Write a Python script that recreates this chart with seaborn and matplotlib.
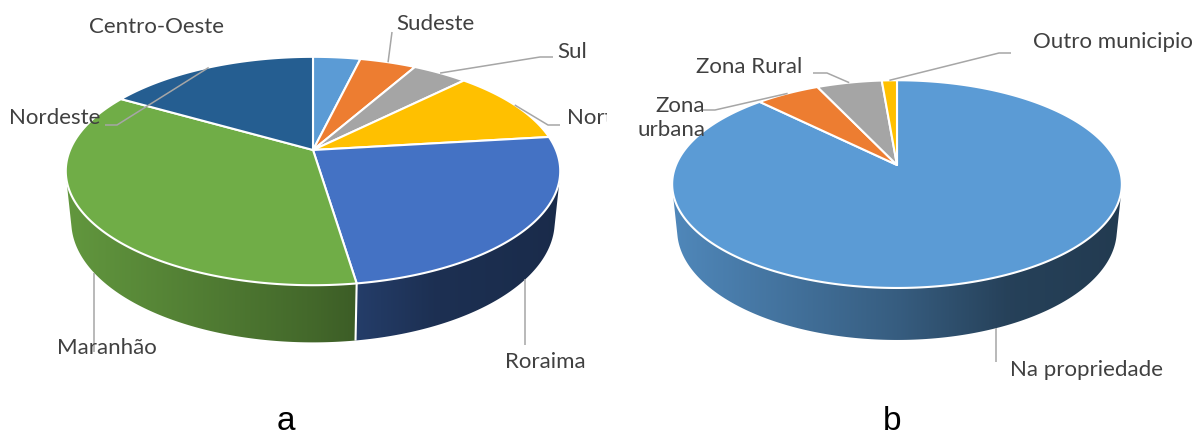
import numpy as np
import matplotlib
matplotlib.use("Agg")
import matplotlib.pyplot as plt
import seaborn as sns
from matplotlib.patches import Polygon

# ---- data -------------------------------------------------------------
regions = ["Centro-Oeste", "Sudeste", "Sul", "Norte", "Roraima", "Maranhão", "Nordeste"]
region_share = [3.7, 4.4, 4.3, 10.7, 24.6, 35.8, 16.6]

places = ["Na propriedade", "Zona urbana", "Zona Rural", "Outro municipio"]
place_share = [87.6, 5.5, 5.6, 1.3]

panel_letters = ["a", "b"]

# ---- style ------------------------------------------------------------
sns.set_theme(style="white")
office = sns.color_palette(["#5B9BD5", "#ED7D31", "#A5A5A5", "#FFC000",
                            "#4472C4", "#70AD47", "#255E91"])
LABEL_FONT = ["Lato", "DejaVu Sans"]
LABEL_COLOR = "#404040"
LEADER_COLOR = "#A6A6A6"
LABEL_SIZE = 16

# camera for the tilted, perspective pie
TILT = np.radians(27.0)
DIST = 4.84
DEPTH = 0.235
COS_T, SIN_T = np.cos(TILT), np.sin(TILT)
EDGE = np.degrees(np.arcsin(1.0 / (DIST * COS_T)))  # wall visible for phi in (-180+EDGE, -EDGE)


def project(x, y, z):
    d = COS_T * y - SIN_T * z + DIST
    return x * DIST / d, (SIN_T * y + COS_T * z) * DIST / d


def rim(phi_deg, z, cx, cy, R):
    p = np.radians(phi_deg)
    sx, sy = project(np.cos(p), np.sin(p), z)
    return cx + R * sx, cy - R * sy


def shade(t):
    return np.interp(t, [0.0, 0.5, 0.75, 1.0], [0.87, 0.60, 0.42, 0.38])


def draw_pie(ax, values, colors, cx, cy, R):
    vals = np.asarray(values, float)
    cum = np.concatenate([[0], np.cumsum(vals)]) / vals.sum()
    starts = 90 - 360 * cum[:-1]
    ends = 90 - 360 * cum[1:]
    x0, x1 = cx - R * 1.05, cx + R * 1.05
    y_top, y_bot = cy - R * 0.2, cy + R * 1.0
    tx = (np.linspace(x0, x1, 400) - (cx - R)) / (2 * R)

    lo_vis, hi_vis = -180 + EDGE, -EDGE
    # side wall: a horizontal gradient clipped to each slice's visible band
    for s, e, col in zip(starts, ends, colors):
        a0, a1 = max(e, lo_vis), min(s, hi_vis)
        if a1 <= a0:
            continue
        ph = np.linspace(a0, a1, max(3, int((a1 - a0) / 0.5) + 1))
        top = [rim(p, 0, cx, cy, R) for p in ph]
        bot = [rim(p, -DEPTH, cx, cy, R) for p in ph[::-1]]
        wall = Polygon(top + bot, closed=True, facecolor="none", edgecolor="none")
        ax.add_patch(wall)
        grad = np.clip(np.array(col)[None, None, :] * shade(tx)[None, :, None], 0, 1)
        im = ax.imshow(grad, extent=(x0, x1, y_bot, y_top), aspect="auto",
                       interpolation="bilinear", zorder=1)
        im.set_clip_path(wall)
    # white seams on the wall where slices meet
    for b in starts:
        bb = b if b > -270 else b + 360
        if lo_vis < bb < hi_vis:
            p_t = rim(bb, 0, cx, cy, R); p_b = rim(bb, -DEPTH, cx, cy, R)
            ax.plot([p_t[0], p_b[0]], [p_t[1], p_b[1]], color="white", lw=1.5, zorder=2,
                    solid_capstyle="butt")

    # top face wedges
    apex = rim(0, 0, cx, cy, 0)
    for s, e, col in zip(starts, ends, colors):
        n = max(3, int((s - e) / 0.5) + 1)
        pts = [apex] + [rim(p, 0, cx, cy, R) for p in np.linspace(s, e, n)]
        ax.add_patch(Polygon(pts, closed=True, facecolor=col, edgecolor="white",
                             lw=1.5, joinstyle="round", zorder=3))

    # anchors for leader lines: slice middle, on the wall if it faces the viewer
    anchors = []
    for s, e in zip(starts, ends):
        m = 0.5 * (s + e)
        mm = m if m > -270 else m + 360
        if lo_vis < mm < hi_vis:
            anchors.append(rim(mm, -DEPTH, cx, cy, R))
        else:
            anchors.append(rim(m, 0, cx, cy, R))
    return anchors


def label(ax, anchor, text, pos, ha, va, bends=None, drop=None, clip=False):
    if drop is not None:
        path = [anchor, (anchor[0], drop)]
    elif bends is not None:
        path = [anchor] + bends
    else:
        path = None
    if path is not None:
        xs, ys = zip(*path)
        ax.plot(xs, ys, color=LEADER_COLOR, lw=1.1, zorder=4, solid_capstyle="butt")
    ax.text(pos[0], pos[1], text, ha=ha, va=va, fontsize=LABEL_SIZE, color=LABEL_COLOR,
            family=LABEL_FONT, zorder=5, clip_on=clip, linespacing=1.25,
            multialignment=ha if ha != "center" else "center")


fig = plt.figure(figsize=(11.97, 4.32), dpi=100)
W, H = 1197, 432
split = 607
ax_a = fig.add_axes([0, 0, split / W, 1])
ax_b = fig.add_axes([split / W, 0, (W - split) / W, 1])

# ---- panel a ----------------------------------------------------------
anc = draw_pie(ax_a, region_share, office[:len(regions)], 313, 150, 243)
label(ax_a, anc[0], regions[0], (157, 27), "center", "center")
label(ax_a, anc[1], regions[1], (396, 24), "left", "center", bends=[(392, 32)])
label(ax_a, anc[2], regions[2], (557, 52), "left", "center", bends=[(540, 57), (553, 57)])
label(ax_a, anc[3], regions[3], (567, 118), "left", "center", bends=[(548, 125), (560, 125)],
      clip=True)
label(ax_a, anc[4], regions[4], (545, 362), "center", "center", drop=345)
label(ax_a, anc[5], regions[5], (107, 348), "center", "center", drop=352)
label(ax_a, anc[6], regions[6], (100, 118), "right", "center", bends=[(117, 125), (105, 125)])

# ---- panel b ----------------------------------------------------------
b_colors = [office[0], office[1], office[2], office[3]]
anc = draw_pie(ax_b, place_share, b_colors, 897, 165, 221)
label(ax_b, anc[0], places[0], (1010, 370), "left", "center", drop=362)
label(ax_b, anc[1], "Zona\nurbana", (705, 118), "right", "center",
      bends=[(715, 110), (702, 110)])
label(ax_b, anc[2], places[2], (802, 67), "right", "center", bends=[(827, 73), (813, 73)])
label(ax_b, anc[3], places[3], (1033, 42), "left", "center", bends=[(999, 53), (1011, 53)])

for ax, lo, hi in ((ax_a, 0, split), (ax_b, split, W)):
    ax.set_aspect("auto")
    ax.set_xlim(lo, hi)
    ax.set_ylim(H, 0)
    ax.set_axis_off()

# panel letters
ax_a.text(286, 430, panel_letters[0], ha="center", va="baseline", fontsize=24,
          family=["Liberation Sans", "DejaVu Sans"], color="black", clip_on=False)
ax_b.text(892, 430, panel_letters[1], ha="center", va="baseline", fontsize=24,
          family=["Liberation Sans", "DejaVu Sans"], color="black", clip_on=False)

fig.savefig("out.png", dpi=100, facecolor="white")
